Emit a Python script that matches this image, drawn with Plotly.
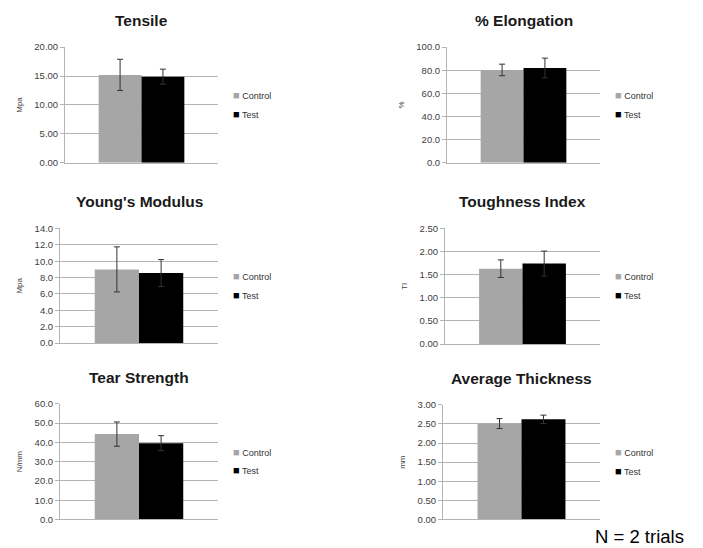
import plotly.graph_objects as go

# Group labels and per-panel measurements (mean and error half-width)
groups = ["Control", "Test"]
panel_titles = ["Tensile", "% Elongation", "Young's Modulus",
                "Toughness Index", "Tear Strength", "Average Thickness"]
units = ["Mpa", "%", "Mpa", "TI", "N/mm", "mm"]
control_mean = [15.2, 80.3, 9.0, 1.63, 44.3, 2.51]
control_err = [2.7, 5.0, 2.75, 0.19, 6.3, 0.13]
test_mean = [14.9, 82.0, 8.55, 1.74, 39.6, 2.62]
test_err = [1.3, 8.5, 1.65, 0.27, 3.9, 0.11]
axis_max = [20, 100, 14, 2.5, 60, 3.0]
axis_step = [5, 20, 2, 0.5, 10, 0.5]
axis_format = [".2f", ".1f", ".1f", ".2f", ".1f", ".2f"]
footnote = "N = 2 trials"

W, H = 703, 548
colors = {"Control": "#a6a6a6", "Test": "#000000"}
grid = "#b4b4b4"
font_fam = "Liberation Sans, Arial, sans-serif"

# plot area boxes in pixels: (left, right, top, bottom)
boxes = [
    (65, 218, 42, 160), (447, 600, 42, 160),
    (60, 218, 227, 344), (445, 600, 227, 345),
    (60, 218, 406, 524), (443, 600, 407, 524),
]

fig = go.Figure()
annotations = []

for i, title in enumerate(panel_titles):
    k = i + 1
    xa = "x" if k == 1 else f"x{k}"
    ya = "y" if k == 1 else f"y{k}"
    means = [control_mean[i], test_mean[i]]
    errs = [control_err[i], test_err[i]]
    for g, m, e in zip(groups, means, errs):
        fig.add_trace(go.Bar(
            x=["run"], y=[m], name=g, offsetgroup=g,
            marker=dict(color=colors[g], line=dict(width=0)),
            error_y=dict(type="data", array=[e], visible=True,
                         color="#333333", thickness=1, width=3),
            xaxis=xa, yaxis=ya, showlegend=False,
        ))
    l, r, t, b = boxes[i]
    xdom = [l / W, r / W]
    ydom = [1 - b / H, 1 - t / H]
    xkey = "xaxis" if k == 1 else f"xaxis{k}"
    ykey = "yaxis" if k == 1 else f"yaxis{k}"
    fig.layout[xkey] = dict(
        domain=xdom, anchor=ya, showticklabels=False, ticks="",
        showgrid=False, showline=True, linecolor=grid, linewidth=1,
        zeroline=False, fixedrange=True,
    )
    fig.layout[ykey] = dict(
        domain=ydom, anchor=xa, range=[0, axis_max[i]],
        dtick=axis_step[i], tick0=0, tickformat=axis_format[i],
        showgrid=True, gridcolor=grid, gridwidth=1,
        showline=True, linecolor=grid, linewidth=1,
        ticks="outside", ticklen=4, tickcolor=grid,
        zeroline=False,
        tickfont=dict(family=font_fam, size=9.5, color="#404040"),
        title=dict(text=units[i], standoff=10,
                   font=dict(family=font_fam, size=8, color="#404040")),
    )
    # panel heading
    annotations.append(dict(
        text=f"<b>{title}</b>", xref="paper", yref="paper",
        x=(l + r) / 2 / W, y=1 - (t - 27) / H, xanchor="center", yanchor="middle",
        showarrow=False, font=dict(family=font_fam, size=15.5, color="#1a1a1a"),
    ))
    # key for the two groups
    mid = (t + b) / 2
    for j, g in enumerate(groups):
        annotations.append(dict(
            text=(f'<span style="color:{colors[g]};font-size:11px">■</span>'
                  f' {g}'),
            xref="paper", yref="paper",
            x=(r + 13) / W, y=1 - (mid - 10 + 19 * j) / H,
            xanchor="left", yanchor="middle", showarrow=False,
            font=dict(family=font_fam, size=9, color="#333333"),
        ))

annotations.append(dict(
    text=footnote, xref="paper", yref="paper",
    x=686 / W, y=1 - 541 / H, xanchor="right", yanchor="middle",
    showarrow=False, font=dict(family=font_fam, size=18.5, color="#000000"),
))

fig.update_layout(
    width=W, height=H, margin=dict(l=0, r=0, t=0, b=0),
    paper_bgcolor="white", plot_bgcolor="white",
    barmode="group", bargap=0.44, bargroupgap=0,
    annotations=annotations, showlegend=False,
)

fig.write_html("out.html")
